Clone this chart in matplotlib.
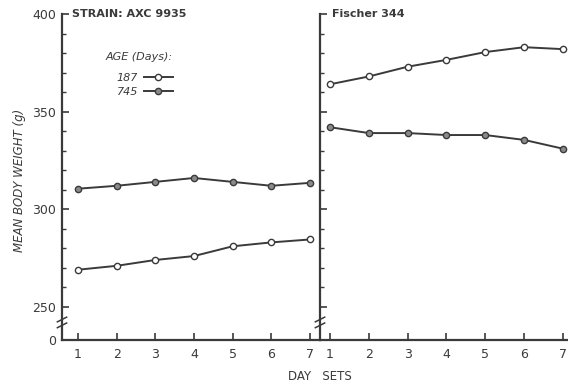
import numpy as np
import matplotlib.pyplot as plt
from matplotlib.lines import Line2D

days = [1, 2, 3, 4, 5, 6, 7]
axc_187 = [269, 271, 274, 276, 281, 283, 284.5]
axc_745 = [310.5, 312, 314, 316, 314, 312, 313.5]
f344_187 = [364, 368, 373, 376.5, 380.5, 383, 382]
f344_745 = [342, 339, 339, 338, 338, 335.5, 331]

ylo, yhi = 233, 400
ink = '#3a3a3a'

plt.rcParams['font.family'] = 'DejaVu Sans'
fig = plt.figure(figsize=(5.68, 3.84), dpi=100, facecolor='white')
axl = fig.add_axes([62 / 568, 1 - 340 / 384, 258 / 568, 326 / 384])
axr = fig.add_axes([320 / 568, 1 - 340 / 384, 248 / 568, 326 / 384])


def style(ax, xlim, show_labels):
    ax.set_xlim(*xlim)
    ax.set_ylim(ylo, yhi)
    for s in ['top', 'right']:
        ax.spines[s].set_visible(False)
    for s in ['left', 'bottom']:
        ax.spines[s].set_color(ink)
        ax.spines[s].set_linewidth(1.6)
    ax.set_xticks(days)
    ax.set_xticklabels([str(d) for d in days], fontsize=9, color=ink)
    ax.set_yticks([ylo, 250, 300, 350, 400])
    ax.set_yticks(np.arange(260, 400, 10), minor=True)
    if show_labels:
        ax.set_yticklabels(['0', '250', '300', '350', '400'], fontsize=9, color=ink)
    else:
        ax.set_yticklabels([])
    ax.tick_params(axis='both', which='major', direction='in', length=5, width=1.2, color=ink, pad=4)
    ax.tick_params(axis='y', which='minor', direction='in', length=3, width=1.0, color=ink)
    ax.tick_params(axis='x', pad=6)
    # axis break marks
    for yb in (240.5, 243.5):
        ax.plot([xlim[0] - 0.12, xlim[0] + 0.12], [yb - 1.2, yb + 1.2], color=ink, lw=1.1, clip_on=False)
    ax.patch.set_alpha(0)


style(axl, (0.586, 7.26), True)
style(axr, (0.742, 7.13), False)

mk = dict(marker='o', ms=4.5, mec=ink, mew=1.0)
for ax, s187, s745 in [(axl, axc_187, axc_745), (axr, f344_187, f344_745)]:
    ax.plot(days, s745, color=ink, lw=1.4, mfc='#8a8a8a', **mk)
    ax.plot(days, s187, color=ink, lw=1.4, mfc='white', **mk)

axl.text(0.85, 400, 'STRAIN: AXC 9935', fontsize=8, fontweight='bold', color=ink, va='center')
axr.text(1.05, 400, 'Fischer 344', fontsize=8, fontweight='bold', color=ink, va='center')

handles = [
    Line2D([], [], color=ink, lw=1.4, mfc='white', **mk),
    Line2D([], [], color=ink, lw=1.4, mfc='#8a8a8a', **mk),
]
leg = axl.legend(handles, ['187', '745'], title='AGE (Days):', loc='upper left',
                 bbox_to_anchor=(0.13, 0.915), frameon=False, markerfirst=False,
                 handlelength=2.6, handletextpad=0.5, labelspacing=0.35, fontsize=8,
                 title_fontsize=8, alignment='right')
leg._legend_box.sep = 8
leg.get_title().set_style('italic')
leg.get_title().set_color(ink)
for t in leg.get_texts():
    t.set_style('italic')
    t.set_color(ink)

fig.text(20 / 568, 1 - 180 / 384, 'MEAN BODY WEIGHT (g)', rotation=90, fontsize=8.5,
         style='italic', color=ink, ha='center', va='center')
fig.text(320 / 568, 1 - 376 / 384, 'DAY   SETS', fontsize=8.5, color=ink, ha='center', va='center')

fig.savefig('out.png', dpi=100, facecolor='white')
